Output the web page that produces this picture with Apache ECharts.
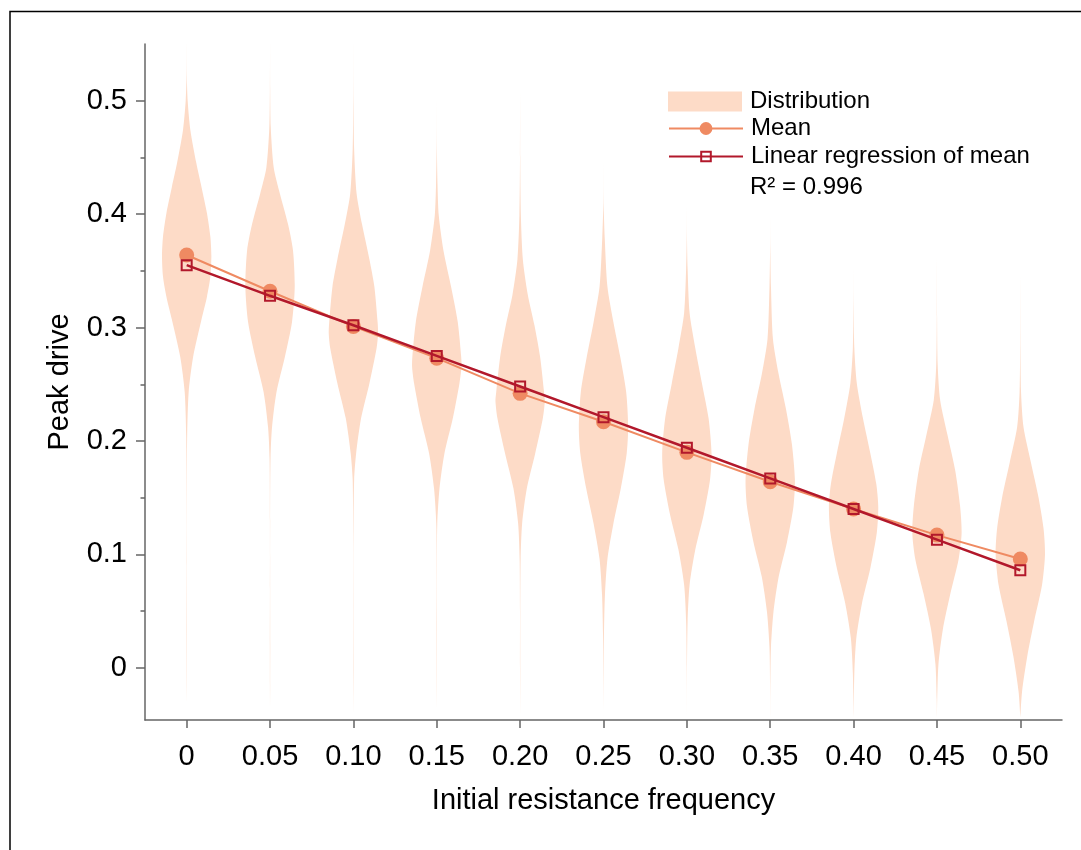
<!DOCTYPE html>
<html>
<head>
<meta charset="utf-8">
<script src="https://cdn.jsdelivr.net/npm/echarts@6/dist/echarts.min.js"></script>
<style>
html,body{margin:0;padding:0;background:#fff;}
#chart{width:1081px;height:850px;}
</style>
</head>
<body>
<div id="chart"></div>
<script>
// ---------- data ----------
var categories = ['0', '0.05', '0.10', '0.15', '0.20', '0.25', '0.30', '0.35', '0.40', '0.45', '0.50'];
var meanValues = [0.364, 0.332, 0.301, 0.273, 0.242, 0.217, 0.190, 0.164, 0.140, 0.117, 0.096];
var regressionValues = [0.355, 0.328, 0.302, 0.275, 0.248, 0.221, 0.194, 0.167, 0.140, 0.113, 0.086];
var rSquaredText = 'R\u00B2 = 0.996';
var yTickLabels = [0, 0.1, 0.2, 0.3, 0.4, 0.5];
var yMinorTicks = [0.05, 0.15, 0.25, 0.35, 0.45];

// violin profiles: [peak drive, relative density width (1 = widest)], top to bottom
var violin0 = [[0.554,0],[0.52,0.008],[0.50,0.04],[0.474,0.15],[0.445,0.39],[0.424,0.6],[0.401,0.82],[0.380,0.96],[0.363,1.0],[0.345,0.96],[0.327,0.82],[0.307,0.6],[0.274,0.26],[0.243,0.08],[0.205,0.02],[0.15,0.005],[0.09,0.004],[0.03,0.008],[-0.01,0.005],[-0.035,0]];
var violin1 = [[0.554,0],[0.51,0.006],[0.476,0.03],[0.441,0.15],[0.418,0.40],[0.391,0.73],[0.368,0.93],[0.336,1.0],[0.305,0.89],[0.274,0.6],[0.243,0.26],[0.212,0.08],[0.185,0.02],[0.13,0.005],[0.07,0.004],[0.02,0.008],[-0.015,0.005],[-0.04,0]];
var violin2 = [[0.556,0],[0.50,0.006],[0.457,0.03],[0.418,0.13],[0.391,0.35],[0.360,0.65],[0.336,0.85],[0.305,0.98],[0.295,1.0],[0.282,0.94],[0.251,0.65],[0.220,0.31],[0.189,0.11],[0.166,0.03],[0.11,0.005],[0.05,0.005],[0.0,0.008],[-0.04,0]];
var violin3 = [[0.505,0],[0.46,0.005],[0.426,0.03],[0.399,0.08],[0.368,0.27],[0.336,0.58],[0.305,0.85],[0.274,0.99],[0.265,1.0],[0.251,0.92],[0.220,0.65],[0.189,0.31],[0.158,0.11],[0.127,0.02],[0.08,0.005],[0.03,0.008],[-0.01,0.005],[-0.042,0]];
var violin4 = [[0.51,0],[0.45,0.005],[0.399,0.03],[0.360,0.11],[0.329,0.31],[0.302,0.58],[0.274,0.81],[0.243,0.97],[0.235,1.0],[0.220,0.92],[0.189,0.61],[0.158,0.27],[0.127,0.08],[0.096,0.02],[0.05,0.006],[0.0,0.006],[-0.045,0]];
var violin5 = [[0.45,0],[0.41,0.006],[0.379,0.05],[0.336,0.16],[0.305,0.40],[0.274,0.68],[0.243,0.92],[0.212,1.0],[0.189,0.94],[0.158,0.70],[0.127,0.40],[0.096,0.16],[0.065,0.06],[0.03,0.02],[-0.01,0.006],[-0.045,0]];
var violin6 = [[0.41,0],[0.38,0.005],[0.352,0.03],[0.313,0.11],[0.282,0.34],[0.251,0.61],[0.220,0.88],[0.189,1.0],[0.166,0.94],[0.135,0.68],[0.104,0.34],[0.073,0.11],[0.041,0.03],[0.0,0.006],[-0.044,0]];
var violin7 = [[0.40,0],[0.37,0.005],[0.336,0.03],[0.290,0.11],[0.259,0.34],[0.228,0.64],[0.197,0.88],[0.166,1.0],[0.142,0.94],[0.111,0.68],[0.080,0.34],[0.049,0.13],[0.018,0.03],[-0.015,0.006],[-0.044,0]];
var violin8 = [[0.356,0],[0.32,0.005],[0.282,0.03],[0.251,0.13],[0.220,0.38],[0.189,0.68],[0.162,0.92],[0.142,1.0],[0.119,0.94],[0.088,0.68],[0.057,0.34],[0.026,0.11],[-0.005,0.03],[-0.044,0]];
var violin9 = [[0.364,0],[0.31,0.005],[0.267,0.03],[0.236,0.13],[0.205,0.43],[0.174,0.74],[0.142,0.94],[0.119,1.0],[0.096,0.88],[0.065,0.54],[0.034,0.24],[0.003,0.06],[-0.028,0.01],[-0.044,0]];
var violin10 = [[0.348,0],[0.29,0.005],[0.243,0.03],[0.212,0.13],[0.181,0.43],[0.150,0.74],[0.123,0.94],[0.100,1.0],[0.073,0.88],[0.041,0.56],[0.010,0.28],[-0.021,0.07],[-0.044,0]];

var violins = [violin0, violin1, violin2, violin3, violin4, violin5, violin6, violin7, violin8, violin9, violin10];

// ---------- styling ----------
var FONT = 'Liberation Sans, Arial, Helvetica, sans-serif';
var AXIS_COLOR = '#666666';
var DIST_COLOR = '#fddbc7';
var MEAN_COLOR = '#ef8a62';
var REG_COLOR = '#b2182b';
var HALF_WIDTH_FRACTION = 0.296; // widest half-width as fraction of category band

var chart = echarts.init(document.getElementById('chart'), null, {renderer: 'canvas'});

function renderViolin(params, api) {
  var idx = api.value(0);
  var prof = violins[idx];
  var band = api.size([1, 0])[0];
  var half = band * HALF_WIDTH_FRACTION;
  var cx = api.coord([idx, 0])[0];
  var pts = [];
  for (var i = 0; i < prof.length; i++) {
    pts.push([cx + prof[i][1] * half, api.coord([idx, prof[i][0]])[1]]);
  }
  for (var j = prof.length - 1; j >= 0; j--) {
    pts.push([cx - prof[j][1] * half, api.coord([idx, prof[j][0]])[1]]);
  }
  return {
    type: 'polygon',
    shape: {points: pts, smooth: 0.25},
    style: {fill: DIST_COLOR}
  };
}

var violinData = categories.map(function (c, i) { return [i]; });

var option = {
  animation: false,
  backgroundColor: '#ffffff',
  textStyle: {fontFamily: FONT},
  grid: {left: 145, right: 19, top: 44, bottom: 130, containLabel: false},
  xAxis: {
    type: 'category',
    data: categories,
    boundaryGap: true,
    name: 'Initial resistance frequency',
    nameLocation: 'middle',
    nameGap: 66,
    nameTextStyle: {fontSize: 29, color: '#000', fontFamily: FONT},
    axisLine: {show: true, onZero: false, lineStyle: {color: AXIS_COLOR, width: 1.5}},
    axisTick: {show: true, alignWithLabel: true, length: 8, lineStyle: {color: AXIS_COLOR, width: 1.5}},
    axisLabel: {fontSize: 29, color: '#000', margin: 22, fontFamily: FONT},
    splitLine: {show: false}
  },
  yAxis: [{
    type: 'value',
    min: -0.046,
    max: 0.55,
    name: 'Peak drive',
    nameLocation: 'middle',
    nameGap: 71,
    nameRotate: 90,
    nameTextStyle: {fontSize: 29, color: '#000', fontFamily: FONT},
    axisLine: {show: true, lineStyle: {color: AXIS_COLOR, width: 1.5}},
    axisTick: {show: true, length: 9, customValues: yTickLabels, lineStyle: {color: AXIS_COLOR, width: 1.5}},
    axisLabel: {
      fontSize: 29, color: '#000', margin: 18, fontFamily: FONT,
      customValues: yTickLabels,
      formatter: function (v) { return v === 0 ? '0' : v.toFixed(1); }
    },
    splitLine: {show: false}
  }, {
    type: 'value',
    min: -0.046,
    max: 0.55,
    position: 'left',
    axisLine: {show: false},
    axisTick: {show: true, length: 4.5, customValues: yMinorTicks, lineStyle: {color: AXIS_COLOR, width: 1.5}},
    axisLabel: {show: false},
    splitLine: {show: false}
  }],
  legend: [{
    data: [{name: 'Distribution', icon: 'rect'}],
    left: 668, top: 89.5, orient: 'vertical', padding: 0,
    itemWidth: 74, itemHeight: 20,
    textStyle: {fontSize: 24, color: '#000', fontFamily: FONT, padding: [0, 0, 0, 3]},
    selectedMode: false
  }, {
    data: ['Mean'],
    left: 668, top: 116.5, orient: 'vertical', padding: 0,
    itemWidth: 74, itemHeight: 16,
    textStyle: {fontSize: 24, color: '#000', fontFamily: FONT, padding: [0, 0, 0, 3]},
    selectedMode: false
  }, {
    data: ['Linear regression of mean'],
    left: 668, top: 144.5, orient: 'vertical', padding: 0,
    itemWidth: 74, itemHeight: 12,
    textStyle: {fontSize: 24, color: '#000', fontFamily: FONT, padding: [0, 0, 0, 3]},
    selectedMode: false
  }],
  graphic: [{
    type: 'rect',
    silent: true,
    shape: {x: 10, y: 11.5, width: 1300, height: 1000},
    style: {fill: 'none', stroke: '#000', lineWidth: 1.5},
    z: 100
  }, {
    type: 'text',
    left: 750, top: 175,
    silent: true,
    style: {text: rSquaredText, fontSize: 24, fill: '#000', fontFamily: FONT}
  }],
  series: [{
    name: 'Distribution',
    type: 'custom',
    renderItem: renderViolin,
    data: violinData,
    encode: {x: 0},
    clip: true,
    itemStyle: {color: DIST_COLOR},
    z: 1
  }, {
    name: 'Mean',
    type: 'line',
    data: meanValues,
    symbol: 'circle',
    symbolSize: 15,
    lineStyle: {color: MEAN_COLOR, width: 2},
    itemStyle: {color: MEAN_COLOR},
    z: 2
  }, {
    name: 'Linear regression of mean',
    type: 'line',
    data: regressionValues,
    symbol: 'rect',
    symbolSize: 10,
    lineStyle: {color: REG_COLOR, width: 2.5},
    itemStyle: {color: 'rgba(255,255,255,0)', borderColor: REG_COLOR, borderWidth: 2},
    z: 3
  }]
};

chart.setOption(option);
</script>
</body>
</html>
